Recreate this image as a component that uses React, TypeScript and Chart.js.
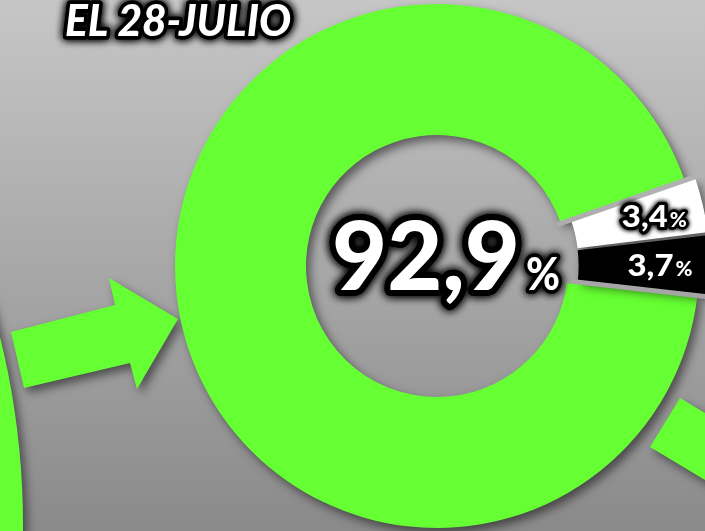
import React, { useEffect, useRef } from "react";
import { Chart, registerables } from "chart.js";

Chart.register(...registerables);

// ---- data ----
const categories: string[] = ["Sí", "No", "Blanco"];
const values: number[] = [92.9, 3.4, 3.7];
const sliceColors: string[] = ["#66ff33", "#ffffff", "#000000"];
const sliceOffsets: number[] = [0, 24, 24];
const titleText = "EL 28-JULIO";

const GREEN = "#66ff33";
const BG_TOP = "#c6c6c6";
const BG_BOTTOM = "#8a8a8a";
const FONT = "Lato, 'Open Sans', sans-serif";

const fmt = (v: number) => v.toFixed(1).replace(".", ",");

function setShadow(ctx: CanvasRenderingContext2D) {
  ctx.shadowColor = "rgba(0,0,0,0.5)";
  ctx.shadowBlur = 10;
  ctx.shadowOffsetX = 4;
  ctx.shadowOffsetY = 5;
}

function poly(ctx: CanvasRenderingContext2D, pts: number[][]) {
  ctx.beginPath();
  pts.forEach((p, i) => (i ? ctx.lineTo(p[0], p[1]) : ctx.moveTo(p[0], p[1])));
  ctx.closePath();
  ctx.fill();
}

function glowText(
  ctx: CanvasRenderingContext2D,
  text: string,
  x: number,
  y: number,
  font: string,
  lw: number,
  blur: number,
  targetWidth?: number
) {
  ctx.save();
  ctx.font = font;
  ctx.textAlign = "left";
  ctx.textBaseline = "alphabetic";
  const w = ctx.measureText(text).width;
  ctx.translate(x, y);
  if (targetWidth) ctx.scale(targetWidth / w, 1);
  ctx.lineJoin = "round";
  ctx.strokeStyle = "#000";
  ctx.lineWidth = lw;
  ctx.shadowColor = "#000";
  ctx.shadowBlur = blur;
  ctx.strokeText(text, 0, 0);
  ctx.strokeText(text, 0, 0);
  ctx.shadowBlur = 0;
  ctx.shadowColor = "transparent";
  ctx.fillStyle = "#fff";
  ctx.fillText(text, 0, 0);
  ctx.restore();
}

const decor = {
  id: "decor",
  beforeDatasetsDraw(chart: any) {
    const ctx: CanvasRenderingContext2D = chart.ctx;
    ctx.save();
    setShadow(ctx);
    ctx.fillStyle = GREEN;
    // previous chart circle at the left edge
    ctx.beginPath();
    ctx.arc(-757, 525, 780, 0, Math.PI * 2);
    ctx.fill();
    // arrow pointing at the doughnut
    poly(ctx, [
      [11, 332],
      [115, 305],
      [109, 278],
      [178, 319],
      [137, 389],
      [130, 363],
      [24, 388],
    ]);
    // arrow leaving at bottom right
    poly(ctx, [
      [680, 398],
      [760, 446],
      [730, 495],
      [650, 447],
    ]);
    ctx.restore();
    ctx.save();
    setShadow(ctx);
  },
  afterDatasetsDraw(chart: any) {
    const ctx: CanvasRenderingContext2D = chart.ctx;
    ctx.restore();
    const meta = chart.getDatasetMeta(0);
    const arcs = meta.data as any[];
    const g = arcs[0];
    const cx = g.x;
    const cy = g.y;
    const rIn = g.innerRadius;
    const rOut = g.outerRadius;
    // gaps between the green arc and the exploded slices
    const grad = ctx.createLinearGradient(0, 0, 0, chart.height);
    grad.addColorStop(0, BG_TOP);
    grad.addColorStop(1, BG_BOTTOM);
    ctx.save();
    ctx.strokeStyle = grad;
    ctx.lineWidth = 5;
    [g.startAngle, g.endAngle].forEach((a: number) => {
      ctx.beginPath();
      ctx.moveTo(cx + Math.cos(a) * (rIn - 4), cy + Math.sin(a) * (rIn - 4));
      ctx.lineTo(cx + Math.cos(a) * (rOut + 40), cy + Math.sin(a) * (rOut + 40));
      ctx.stroke();
    });
    ctx.restore();

    // title
    glowText(ctx, titleText, 65, 36, `italic 900 43px ${FONT}`, 7, 8, 226);

    // centre value
    const bigFont = `900 96px ${FONT}`;
    const pctFont = `900 46px ${FONT}`;
    const big = fmt(values[0]);
    const total = 188 + 6 + 34;
    const sx = cx + 9 - total / 2;
    glowText(ctx, big, sx, cy + 24, bigFont, 12, 10, 188);
    glowText(ctx, "%", sx + 188 + 6, cy + 24, pctFont, 7, 8, 34);

    // slice labels
    for (let i = 1; i < arcs.length; i++) {
      const a = arcs[i];
      const mid = (a.startAngle + a.endAngle) / 2;
      const r = 223;
      const px = cx + Math.cos(mid) * r;
      const py = cy + Math.sin(mid) * r;
      const nFont = `900 30px ${FONT}`;
      const sFont = `900 20px ${FONT}`;
      const t = fmt(values[i]);
      const tw = 46;
      const pw = 17;
      const gw = tw + 2 + pw;
      const lx = px - gw / 2;
      glowText(ctx, t, lx, py + 10.5, nFont, 6, 5, tw);
      glowText(ctx, "%", lx + tw + 2, py + 10.5, sFont, 5, 4, pw);
    }
  },
};

export default function App() {
  const ref = useRef<HTMLCanvasElement | null>(null);
  useEffect(() => {
    if (!ref.current) return;
    const chart = new Chart(ref.current, {
      type: "doughnut",
      data: {
        labels: categories,
        datasets: [
          {
            data: values,
            backgroundColor: sliceColors,
            borderWidth: 0,
            offset: sliceOffsets,
            clip: false,
          } as any,
        ],
      },
      options: {
        responsive: true,
        maintainAspectRatio: false,
        animation: false,
        events: [],
        radius: 262,
        cutout: "50%",
        rotation: 96.5,
        layout: { padding: { left: 169, top: 1, right: 0, bottom: 0 } },
        plugins: {
          legend: { display: false },
          tooltip: { enabled: false },
          title: { display: false },
        },
      } as any,
      plugins: [decor],
    });
    return () => chart.destroy();
  }, []);
  return (
    <div
      style={{
        position: "fixed",
        left: 0,
        top: 0,
        width: 705,
        height: 531,
        background: `linear-gradient(${BG_TOP}, ${BG_BOTTOM})`,
        overflow: "hidden",
      }}
    >
      <canvas ref={ref} style={{ display: "block" }} />
    </div>
  );
}
